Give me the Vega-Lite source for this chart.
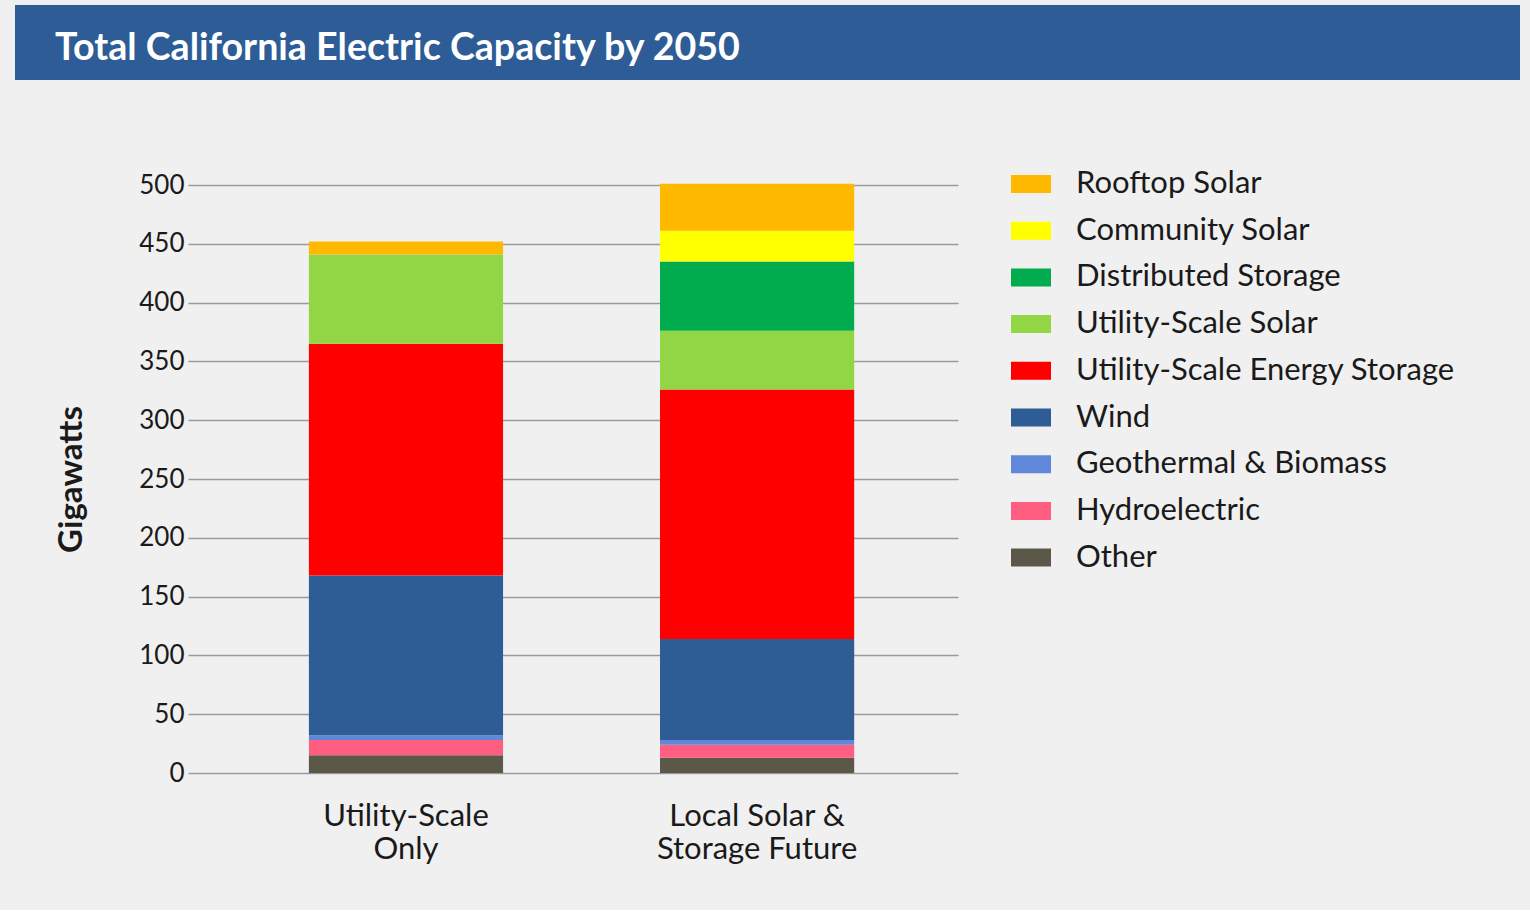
{
  "$schema": "https://vega.github.io/schema/vega-lite/v6.json",
  "background": "#F0F0F0",
  "padding": {"left": 15, "top": 5, "right": 10, "bottom": 46},
  "config": {"font": "Lato", "view": {"stroke": null}},
  "spacing": 84,
  "resolve": {"legend": {"color": "independent"}},
  "vconcat": [
    {
      "width": 1505,
      "height": 75,
      "view": {"fill": "#2D5C97", "stroke": null},
      "title": {
        "text": "Total California Electric Capacity by 2050",
        "anchor": "start",
        "orient": "top",
        "frame": "group",
        "offset": -57,
        "dx": 40,
        "dy": 36,
        "baseline": "alphabetic",
        "fontSize": 37.6,
        "fontWeight": "bold",
        "color": "#FFFFFF",
        "font": "Lato"
      },
      "data": {"values": []},
      "mark": "rect"
    },
    {
      "spacing": 20,
      "resolve": {"legend": {"color": "independent"}},
      "hconcat": [
        {
          "width": 20,
          "height": 588,
          "view": {"stroke": null},
          "data": {"values": []},
          "mark": "rect"
        },
        {
          "width": 770,
          "height": 588,
          "data": {
            "values": [
              {"scenario": "Utility-Scale Only", "source": "Other", "gw": 15},
              {"scenario": "Utility-Scale Only", "source": "Hydroelectric", "gw": 13},
              {"scenario": "Utility-Scale Only", "source": "Geothermal & Biomass", "gw": 4},
              {"scenario": "Utility-Scale Only", "source": "Wind", "gw": 136},
              {"scenario": "Utility-Scale Only", "source": "Utility-Scale Energy Storage", "gw": 197},
              {"scenario": "Utility-Scale Only", "source": "Utility-Scale Solar", "gw": 76},
              {"scenario": "Utility-Scale Only", "source": "Rooftop Solar", "gw": 11},
              {"scenario": "Local Solar & Storage Future", "source": "Other", "gw": 13},
              {"scenario": "Local Solar & Storage Future", "source": "Hydroelectric", "gw": 11},
              {"scenario": "Local Solar & Storage Future", "source": "Geothermal & Biomass", "gw": 4},
              {"scenario": "Local Solar & Storage Future", "source": "Wind", "gw": 86},
              {"scenario": "Local Solar & Storage Future", "source": "Utility-Scale Energy Storage", "gw": 212},
              {"scenario": "Local Solar & Storage Future", "source": "Utility-Scale Solar", "gw": 50},
              {"scenario": "Local Solar & Storage Future", "source": "Distributed Storage", "gw": 59},
              {"scenario": "Local Solar & Storage Future", "source": "Community Solar", "gw": 26},
              {"scenario": "Local Solar & Storage Future", "source": "Rooftop Solar", "gw": 40}
            ]
          },
          "transform": [
            {
              "calculate": "indexof(['Other', 'Hydroelectric', 'Geothermal & Biomass', 'Wind', 'Utility-Scale Energy Storage', 'Utility-Scale Solar', 'Distributed Storage', 'Community Solar', 'Rooftop Solar'], datum.source)",
              "as": "stackRank"
            }
          ],
          "mark": {"type": "bar"},
          "encoding": {
            "x": {
              "field": "scenario",
              "type": "nominal",
              "sort": ["Utility-Scale Only", "Local Solar & Storage Future"],
              "scale": {"paddingInner": 0.447, "paddingOuter": 0.32, "align": 0.538},
              "axis": {
                "title": null,
                "labelAngle": 0,
                "domain": false,
                "ticks": false,
                "labelFontSize": 31,
                "labelColor": "#1a1a1a",
                "labelPadding": 28,
                "labelLineHeight": 33,
                "labelLimit": 500,
                "labelExpr": "datum.value == 'Utility-Scale Only' ? ['Utility-Scale', 'Only'] : ['Local Solar &', 'Storage Future']"
              }
            },
            "y": {
              "field": "gw",
              "type": "quantitative",
              "stack": "zero",
              "scale": {"domain": [0, 500], "nice": false},
              "axis": {
                "title": "Gigawatts",
                "values": [0, 50, 100, 150, 200, 250, 300, 350, 400, 450, 500],
                "ticks": false,
                "domain": false,
                "gridColor": "#9A9A9A",
                "gridWidth": 1.5,
                "labelFontSize": 26,
                "labelColor": "#1a1a1a",
                "labelPadding": 4,
                "titleFontSize": 33,
                "titleFontWeight": "bold",
                "titleColor": "#1a1a1a",
                "titlePadding": 50
              }
            },
            "color": {
              "field": "source",
              "type": "nominal",
              "scale": {
                "domain": ["Rooftop Solar", "Community Solar", "Distributed Storage", "Utility-Scale Solar", "Utility-Scale Energy Storage", "Wind", "Geothermal & Biomass", "Hydroelectric", "Other"],
                "range": ["#FFB900", "#FFFF00", "#00AC4E", "#92D645", "#FF0000", "#2E5D96", "#5F88DA", "#FF5E80", "#5C5849"]
              },
              "legend": {
                "title": null,
                "orient": "none",
                "legendX": 823,
                "legendY": -21,
                "padding": 0,
                "symbolType": "M-1,-0.45L1,-0.45L1,0.45L-1,0.45Z",
                "symbolSize": 1600,
                "symbolStrokeWidth": 0,
                "symbolOpacity": 1,
                "labelFontSize": 31,
                "labelColor": "#1a1a1a",
                "labelOffset": 25,
                "rowPadding": 11.7,
                "labelLimit": 600
              }
            },
            "order": {"field": "stackRank", "type": "quantitative", "sort": "ascending"}
          }
        }
      ]
    }
  ]
}
